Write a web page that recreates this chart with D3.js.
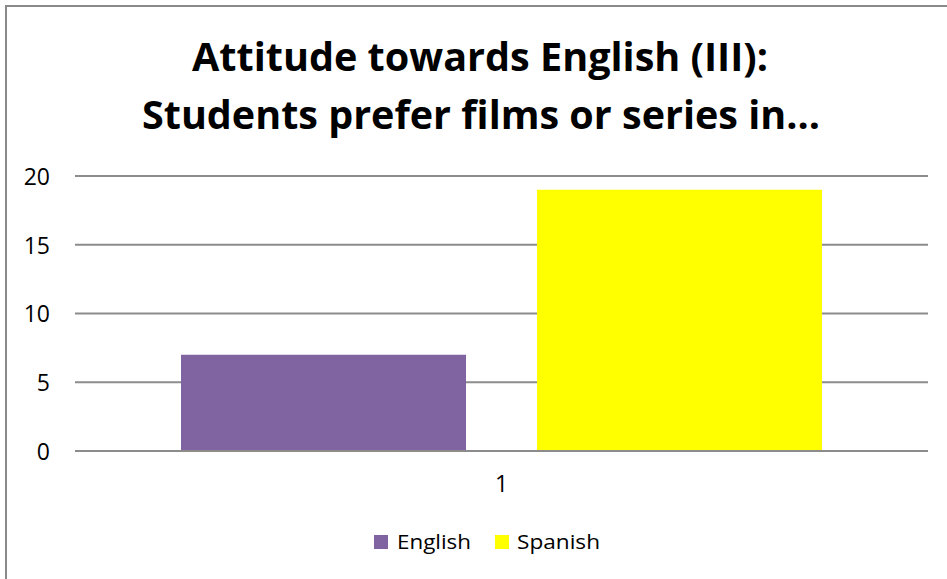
<!DOCTYPE html>
<html>
<head>
<meta charset="utf-8">
<script src="https://cdn.jsdelivr.net/npm/d3@7"></script>
<style>
  html, body { margin: 0; padding: 0; background: #fff; }
  svg { display: block; }
  text { font-variant-ligatures: none; }
</style>
</head>
<body>
<svg id="chart" width="947" height="579"></svg>
<script>
// Chart data
const categories = ["1"];
const seriesNames = ["English", "Spanish"];
const seriesValues = [7, 19];
const seriesColors = ["#8064A2", "#FFFF00"];
const yTicks = [0, 5, 10, 15, 20];
const titleLines = ["Attitude towards English (III):", "Students prefer films or series in..."];

const svg = d3.select("#chart");
const W = 947, H = 579;
const font = "'Open Sans', Lato, 'DejaVu Sans', sans-serif";

// Outer chart frame (extends past the visible area at right and bottom)
svg.append("rect")
  .attr("x", 6).attr("y", 6)
  .attr("width", W + 20).attr("height", H + 20)
  .attr("fill", "#fff")
  .attr("stroke", "#8a8a8a")
  .attr("stroke-width", 2);

// Plot area
const plot = { left: 75, right: 928, top: 176, bottom: 451 };

const y = d3.scaleLinear().domain([0, 20]).range([plot.bottom, plot.top]);

const x0 = d3.scaleBand()
  .domain(categories)
  .range([plot.left, plot.right])
  .paddingInner(0)
  .paddingOuter(0.1654);

const x1 = d3.scaleBand()
  .domain(seriesNames)
  .range([0, x0.bandwidth()])
  .paddingInner(0.1994)
  .paddingOuter(0);

// Gridlines
svg.append("g")
  .selectAll("line")
  .data(yTicks)
  .join("line")
  .attr("x1", plot.left).attr("x2", plot.right)
  .attr("y1", d => y(d)).attr("y2", d => y(d))
  .attr("stroke", "#8c8c8c")
  .attr("stroke-width", 2);

// Y axis labels
const yAxis = d3.axisLeft(y).tickValues(yTicks).tickSize(0).tickPadding(0);
const yg = svg.append("g")
  .attr("transform", `translate(${plot.left - 25},0)`)
  .call(yAxis);
yg.select(".domain").remove();
yg.selectAll("text")
  .attr("font-family", font)
  .attr("font-size", 23)
  .attr("fill", "#000")
  .attr("dy", "0.36em");

// Bars
const barData = seriesNames.map((name, i) => ({ cat: categories[0], name, value: seriesValues[i], color: seriesColors[i] }));
svg.append("g")
  .selectAll("rect")
  .data(barData)
  .join("rect")
  .attr("x", d => x0(d.cat) + x1(d.name))
  .attr("y", d => y(d.value))
  .attr("width", x1.bandwidth())
  .attr("height", d => y(0) - y(d.value))
  .attr("fill", d => d.color);

// Redraw baseline over bar bottoms
svg.append("line")
  .attr("x1", plot.left).attr("x2", plot.right)
  .attr("y1", y(0)).attr("y2", y(0))
  .attr("stroke", "#8c8c8c")
  .attr("stroke-width", 2);

// X axis category label
const xAxis = d3.axisBottom(x0).tickSize(0).tickPadding(0);
const xg = svg.append("g")
  .attr("transform", `translate(0,${plot.bottom + 25})`)
  .call(xAxis);
xg.select(".domain").remove();
xg.selectAll("text")
  .attr("font-family", font)
  .attr("font-size", 23)
  .attr("fill", "#000")
  .attr("dy", "0.71em");

// Title
const titleSpecs = [
  { text: titleLines[0], cx: 480, base: 71, width: 576 },
  { text: titleLines[1], cx: 481, base: 129, width: 678 }
];
svg.append("g")
  .selectAll("text")
  .data(titleSpecs)
  .join("text")
  .attr("x", d => d.cx)
  .attr("y", d => d.base)
  .attr("text-anchor", "middle")
  .attr("font-family", font)
  .attr("font-weight", "bold")
  .attr("font-size", 40)
  .attr("fill", "#000")
  .attr("textLength", d => d.width)
  .attr("lengthAdjust", "spacingAndGlyphs")
  .text(d => d.text);

// Legend
const legendItems = [
  { name: seriesNames[0], color: seriesColors[0], sx: 374, tx: 397, tw: 74 },
  { name: seriesNames[1], color: seriesColors[1], sx: 495, tx: 517, tw: 83 }
];
const lg = svg.append("g");
lg.selectAll("rect")
  .data(legendItems)
  .join("rect")
  .attr("x", d => d.sx).attr("y", 535)
  .attr("width", 14).attr("height", 14)
  .attr("fill", d => d.color);
lg.selectAll("text")
  .data(legendItems)
  .join("text")
  .attr("x", d => d.tx).attr("y", 549)
  .attr("font-family", font)
  .attr("font-size", 20)
  .attr("fill", "#000")
  .attr("textLength", d => d.tw)
  .attr("lengthAdjust", "spacingAndGlyphs")
  .text(d => d.name);
</script>
</body>
</html>
